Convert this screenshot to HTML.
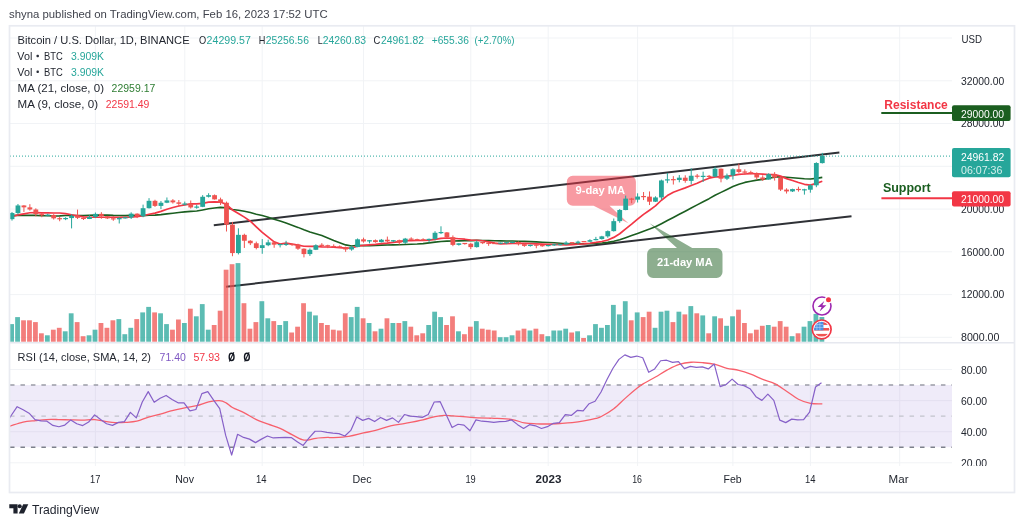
<!DOCTYPE html>
<html><head><meta charset="utf-8"><title>BTCUSD</title>
<style>html,body{margin:0;padding:0;background:#fff;width:1024px;height:526px;overflow:hidden;font-family:"Liberation Sans",sans-serif}</style></head>
<body>
<svg width="1024" height="526" viewBox="0 0 1024 526" style="position:absolute;left:0;top:0;display:block;filter:blur(0.45px)" font-family="'Liberation Sans', sans-serif">
<rect width="1024" height="526" fill="#fff"/>
<defs><clipPath id="cm"><rect x="10" y="26" width="942" height="316.5"/></clipPath><clipPath id="cr"><rect x="10" y="343" width="942" height="123"/></clipPath><clipPath id="cs"><rect x="952" y="26" width="62" height="316.5"/></clipPath><clipPath id="cs2"><rect x="952" y="343" width="62" height="123"/></clipPath></defs>
<g stroke="#f1f3f6" stroke-width="1" shape-rendering="auto"><line x1="95.4" y1="26" x2="95.4" y2="466" /><line x1="184.8" y1="26" x2="184.8" y2="466" /><line x1="262.2" y1="26" x2="262.2" y2="466" /><line x1="363.5" y1="26" x2="363.5" y2="466" /><line x1="470.8" y1="26" x2="470.8" y2="466" /><line x1="548.2" y1="26" x2="548.2" y2="466" /><line x1="637.6" y1="26" x2="637.6" y2="466" /><line x1="732.9" y1="26" x2="732.9" y2="466" /><line x1="810.4" y1="26" x2="810.4" y2="466" /><line x1="899.7" y1="26" x2="899.7" y2="466" /><line x1="10" y1="38.0" x2="952" y2="38.0" /><line x1="10" y1="80.8" x2="952" y2="80.8" /><line x1="10" y1="123.5" x2="952" y2="123.5" /><line x1="10" y1="166.3" x2="952" y2="166.3" /><line x1="10" y1="209.1" x2="952" y2="209.1" /><line x1="10" y1="251.8" x2="952" y2="251.8" /><line x1="10" y1="294.6" x2="952" y2="294.6" /><line x1="10" y1="337.3" x2="952" y2="337.3" /><line x1="10" y1="369.5" x2="952" y2="369.5" /><line x1="10" y1="400.6" x2="952" y2="400.6" /><line x1="10" y1="431.7" x2="952" y2="431.7" /><line x1="10" y1="462.8" x2="952" y2="462.8" /></g>
<rect x="10" y="385.0" width="942" height="62.2" fill="#efebf9"/>
<g stroke="#e4e0f0" stroke-width="1"><line x1="95.4" y1="385.0" x2="95.4" y2="447.3" /><line x1="184.8" y1="385.0" x2="184.8" y2="447.3" /><line x1="262.2" y1="385.0" x2="262.2" y2="447.3" /><line x1="363.5" y1="385.0" x2="363.5" y2="447.3" /><line x1="470.8" y1="385.0" x2="470.8" y2="447.3" /><line x1="548.2" y1="385.0" x2="548.2" y2="447.3" /><line x1="637.6" y1="385.0" x2="637.6" y2="447.3" /><line x1="732.9" y1="385.0" x2="732.9" y2="447.3" /><line x1="810.4" y1="385.0" x2="810.4" y2="447.3" /><line x1="899.7" y1="385.0" x2="899.7" y2="447.3" /><line x1="10" y1="400.6" x2="952" y2="400.6" /><line x1="10" y1="431.7" x2="952" y2="431.7" /></g>
<line x1="10" y1="385.0" x2="952" y2="385.0" stroke="#9a9ca6" stroke-width="1.6" stroke-dasharray="4.5 5.96"/>
<line x1="10" y1="416.1" x2="952" y2="416.1" stroke="#c2c3cb" stroke-width="1.2" stroke-dasharray="4.5 5.96"/>
<line x1="10" y1="447.3" x2="952" y2="447.3" stroke="#7d808b" stroke-width="1.6" stroke-dasharray="4.5 5.96"/>
<g clip-path="url(#cm)">
<line x1="213.8" y1="225.2" x2="839.4" y2="152.5" stroke="#2f3136" stroke-width="2"/>
<line x1="226" y1="286.8" x2="851.5" y2="216.2" stroke="#2f3136" stroke-width="2"/>
<path d="M572.8 175.8H629.9a6 6 0 0 1 6 6V199.8a6 6 0 0 1 -6 6H609.5L628.4 223.2L593.6 205.8H572.8a6 6 0 0 1 -6 -6V181.8a6 6 0 0 1 6 -6Z" fill="#f23645" fill-opacity="0.5"/>
<path d="M653.1 247.9H677L649.5 223.3L692.2 247.9H716.5a6 6 0 0 1 6 6V271.9a6 6 0 0 1 -6 6H653.1a6 6 0 0 1 -6 -6V253.9a6 6 0 0 1 6 -6Z" fill="#1b5e20" fill-opacity="0.5"/>
<text x="575.5" y="193.5" font-size="11.5" font-weight="700" fill="#fff" textLength="49.6" lengthAdjust="spacingAndGlyphs">9-day MA</text>
<text x="657" y="265.7" font-size="11.5" font-weight="700" fill="#fff" textLength="55.7" lengthAdjust="spacingAndGlyphs">21-day MA</text>
<line x1="10" y1="156.1" x2="952" y2="156.1" stroke="#26a69a" stroke-width="1" stroke-dasharray="1 2"/>
<rect x="9.20" y="324.10" width="4.8" height="17.60" fill="#26a69a" fill-opacity="0.75"/><rect x="15.16" y="317.10" width="4.8" height="24.60" fill="#26a69a" fill-opacity="0.75"/><rect x="21.12" y="320.30" width="4.8" height="21.40" fill="#ef5350" fill-opacity="0.75"/><rect x="27.07" y="320.30" width="4.8" height="21.40" fill="#ef5350" fill-opacity="0.75"/><rect x="33.03" y="322.10" width="4.8" height="19.60" fill="#ef5350" fill-opacity="0.75"/><rect x="38.99" y="333.30" width="4.8" height="8.40" fill="#ef5350" fill-opacity="0.75"/><rect x="44.95" y="335.30" width="4.8" height="6.40" fill="#26a69a" fill-opacity="0.75"/><rect x="50.91" y="329.70" width="4.8" height="12.00" fill="#ef5350" fill-opacity="0.75"/><rect x="56.86" y="327.80" width="4.8" height="13.90" fill="#ef5350" fill-opacity="0.75"/><rect x="62.82" y="331.30" width="4.8" height="10.40" fill="#26a69a" fill-opacity="0.75"/><rect x="68.78" y="313.30" width="4.8" height="28.40" fill="#26a69a" fill-opacity="0.75"/><rect x="74.74" y="322.10" width="4.8" height="19.60" fill="#ef5350" fill-opacity="0.75"/><rect x="80.70" y="336.20" width="4.8" height="5.50" fill="#ef5350" fill-opacity="0.75"/><rect x="86.65" y="335.30" width="4.8" height="6.40" fill="#26a69a" fill-opacity="0.75"/><rect x="92.61" y="329.70" width="4.8" height="12.00" fill="#26a69a" fill-opacity="0.75"/><rect x="98.57" y="323.00" width="4.8" height="18.70" fill="#ef5350" fill-opacity="0.75"/><rect x="104.53" y="327.80" width="4.8" height="13.90" fill="#ef5350" fill-opacity="0.75"/><rect x="110.49" y="320.30" width="4.8" height="21.40" fill="#ef5350" fill-opacity="0.75"/><rect x="116.44" y="319.10" width="4.8" height="22.60" fill="#26a69a" fill-opacity="0.75"/><rect x="122.40" y="334.20" width="4.8" height="7.50" fill="#26a69a" fill-opacity="0.75"/><rect x="128.36" y="327.80" width="4.8" height="13.90" fill="#26a69a" fill-opacity="0.75"/><rect x="134.32" y="319.10" width="4.8" height="22.60" fill="#ef5350" fill-opacity="0.75"/><rect x="140.28" y="312.40" width="4.8" height="29.30" fill="#26a69a" fill-opacity="0.75"/><rect x="146.23" y="306.90" width="4.8" height="34.80" fill="#26a69a" fill-opacity="0.75"/><rect x="152.19" y="312.40" width="4.8" height="29.30" fill="#ef5350" fill-opacity="0.75"/><rect x="158.15" y="313.30" width="4.8" height="28.40" fill="#26a69a" fill-opacity="0.75"/><rect x="164.11" y="324.10" width="4.8" height="17.60" fill="#26a69a" fill-opacity="0.75"/><rect x="170.07" y="329.70" width="4.8" height="12.00" fill="#ef5350" fill-opacity="0.75"/><rect x="176.02" y="319.50" width="4.8" height="22.20" fill="#ef5350" fill-opacity="0.75"/><rect x="181.98" y="323.00" width="4.8" height="18.70" fill="#26a69a" fill-opacity="0.75"/><rect x="187.94" y="308.70" width="4.8" height="33.00" fill="#ef5350" fill-opacity="0.75"/><rect x="193.90" y="316.30" width="4.8" height="25.40" fill="#26a69a" fill-opacity="0.75"/><rect x="199.86" y="304.10" width="4.8" height="37.60" fill="#26a69a" fill-opacity="0.75"/><rect x="205.81" y="329.70" width="4.8" height="12.00" fill="#26a69a" fill-opacity="0.75"/><rect x="211.77" y="325.00" width="4.8" height="16.70" fill="#ef5350" fill-opacity="0.75"/><rect x="217.73" y="310.70" width="4.8" height="31.00" fill="#ef5350" fill-opacity="0.75"/><rect x="223.69" y="269.70" width="4.8" height="72.00" fill="#ef5350" fill-opacity="0.75"/><rect x="229.65" y="264.20" width="4.8" height="77.50" fill="#ef5350" fill-opacity="0.75"/><rect x="235.60" y="263.10" width="4.8" height="78.60" fill="#26a69a" fill-opacity="0.75"/><rect x="241.56" y="303.20" width="4.8" height="38.50" fill="#ef5350" fill-opacity="0.75"/><rect x="247.52" y="328.70" width="4.8" height="13.00" fill="#ef5350" fill-opacity="0.75"/><rect x="253.48" y="322.10" width="4.8" height="19.60" fill="#ef5350" fill-opacity="0.75"/><rect x="259.44" y="301.20" width="4.8" height="40.50" fill="#26a69a" fill-opacity="0.75"/><rect x="265.39" y="318.30" width="4.8" height="23.40" fill="#26a69a" fill-opacity="0.75"/><rect x="271.35" y="321.10" width="4.8" height="20.60" fill="#ef5350" fill-opacity="0.75"/><rect x="277.31" y="325.00" width="4.8" height="16.70" fill="#26a69a" fill-opacity="0.75"/><rect x="283.27" y="321.10" width="4.8" height="20.60" fill="#26a69a" fill-opacity="0.75"/><rect x="289.23" y="332.50" width="4.8" height="9.20" fill="#ef5350" fill-opacity="0.75"/><rect x="295.18" y="326.70" width="4.8" height="15.00" fill="#ef5350" fill-opacity="0.75"/><rect x="301.14" y="303.20" width="4.8" height="38.50" fill="#ef5350" fill-opacity="0.75"/><rect x="307.10" y="311.70" width="4.8" height="30.00" fill="#26a69a" fill-opacity="0.75"/><rect x="313.06" y="315.40" width="4.8" height="26.30" fill="#26a69a" fill-opacity="0.75"/><rect x="319.02" y="323.00" width="4.8" height="18.70" fill="#ef5350" fill-opacity="0.75"/><rect x="324.97" y="325.00" width="4.8" height="16.70" fill="#ef5350" fill-opacity="0.75"/><rect x="330.93" y="329.70" width="4.8" height="12.00" fill="#ef5350" fill-opacity="0.75"/><rect x="336.89" y="330.50" width="4.8" height="11.20" fill="#ef5350" fill-opacity="0.75"/><rect x="342.85" y="313.30" width="4.8" height="28.40" fill="#ef5350" fill-opacity="0.75"/><rect x="348.81" y="317.10" width="4.8" height="24.60" fill="#26a69a" fill-opacity="0.75"/><rect x="354.76" y="306.90" width="4.8" height="34.80" fill="#26a69a" fill-opacity="0.75"/><rect x="360.72" y="318.30" width="4.8" height="23.40" fill="#ef5350" fill-opacity="0.75"/><rect x="366.68" y="323.00" width="4.8" height="18.70" fill="#26a69a" fill-opacity="0.75"/><rect x="372.64" y="331.30" width="4.8" height="10.40" fill="#ef5350" fill-opacity="0.75"/><rect x="378.60" y="328.70" width="4.8" height="13.00" fill="#26a69a" fill-opacity="0.75"/><rect x="384.55" y="318.30" width="4.8" height="23.40" fill="#ef5350" fill-opacity="0.75"/><rect x="390.51" y="323.00" width="4.8" height="18.70" fill="#26a69a" fill-opacity="0.75"/><rect x="396.47" y="323.00" width="4.8" height="18.70" fill="#ef5350" fill-opacity="0.75"/><rect x="402.43" y="321.10" width="4.8" height="20.60" fill="#26a69a" fill-opacity="0.75"/><rect x="408.39" y="326.70" width="4.8" height="15.00" fill="#ef5350" fill-opacity="0.75"/><rect x="414.34" y="335.30" width="4.8" height="6.40" fill="#ef5350" fill-opacity="0.75"/><rect x="420.30" y="333.30" width="4.8" height="8.40" fill="#ef5350" fill-opacity="0.75"/><rect x="426.26" y="325.00" width="4.8" height="16.70" fill="#26a69a" fill-opacity="0.75"/><rect x="432.22" y="311.70" width="4.8" height="30.00" fill="#26a69a" fill-opacity="0.75"/><rect x="438.18" y="317.10" width="4.8" height="24.60" fill="#26a69a" fill-opacity="0.75"/><rect x="444.13" y="325.00" width="4.8" height="16.70" fill="#ef5350" fill-opacity="0.75"/><rect x="450.09" y="316.30" width="4.8" height="25.40" fill="#ef5350" fill-opacity="0.75"/><rect x="456.05" y="331.30" width="4.8" height="10.40" fill="#26a69a" fill-opacity="0.75"/><rect x="462.01" y="334.20" width="4.8" height="7.50" fill="#ef5350" fill-opacity="0.75"/><rect x="467.97" y="326.70" width="4.8" height="15.00" fill="#ef5350" fill-opacity="0.75"/><rect x="473.92" y="321.10" width="4.8" height="20.60" fill="#26a69a" fill-opacity="0.75"/><rect x="479.88" y="328.70" width="4.8" height="13.00" fill="#ef5350" fill-opacity="0.75"/><rect x="485.84" y="329.70" width="4.8" height="12.00" fill="#ef5350" fill-opacity="0.75"/><rect x="491.80" y="330.50" width="4.8" height="11.20" fill="#ef5350" fill-opacity="0.75"/><rect x="497.76" y="337.20" width="4.8" height="4.50" fill="#26a69a" fill-opacity="0.75"/><rect x="503.71" y="337.20" width="4.8" height="4.50" fill="#26a69a" fill-opacity="0.75"/><rect x="509.67" y="335.30" width="4.8" height="6.40" fill="#26a69a" fill-opacity="0.75"/><rect x="515.63" y="330.50" width="4.8" height="11.20" fill="#ef5350" fill-opacity="0.75"/><rect x="521.59" y="328.70" width="4.8" height="13.00" fill="#ef5350" fill-opacity="0.75"/><rect x="527.55" y="330.50" width="4.8" height="11.20" fill="#26a69a" fill-opacity="0.75"/><rect x="533.50" y="328.70" width="4.8" height="13.00" fill="#ef5350" fill-opacity="0.75"/><rect x="539.46" y="334.20" width="4.8" height="7.50" fill="#ef5350" fill-opacity="0.75"/><rect x="545.42" y="336.20" width="4.8" height="5.50" fill="#26a69a" fill-opacity="0.75"/><rect x="551.38" y="330.50" width="4.8" height="11.20" fill="#26a69a" fill-opacity="0.75"/><rect x="557.34" y="330.50" width="4.8" height="11.20" fill="#26a69a" fill-opacity="0.75"/><rect x="563.29" y="328.70" width="4.8" height="13.00" fill="#26a69a" fill-opacity="0.75"/><rect x="569.25" y="332.50" width="4.8" height="9.20" fill="#ef5350" fill-opacity="0.75"/><rect x="575.21" y="331.30" width="4.8" height="10.40" fill="#26a69a" fill-opacity="0.75"/><rect x="581.17" y="338.00" width="4.8" height="3.70" fill="#ef5350" fill-opacity="0.75"/><rect x="587.13" y="335.30" width="4.8" height="6.40" fill="#26a69a" fill-opacity="0.75"/><rect x="593.08" y="324.10" width="4.8" height="17.60" fill="#26a69a" fill-opacity="0.75"/><rect x="599.04" y="327.80" width="4.8" height="13.90" fill="#26a69a" fill-opacity="0.75"/><rect x="605.00" y="325.00" width="4.8" height="16.70" fill="#26a69a" fill-opacity="0.75"/><rect x="610.96" y="304.90" width="4.8" height="36.80" fill="#26a69a" fill-opacity="0.75"/><rect x="616.92" y="314.40" width="4.8" height="27.30" fill="#26a69a" fill-opacity="0.75"/><rect x="622.87" y="301.20" width="4.8" height="40.50" fill="#26a69a" fill-opacity="0.75"/><rect x="628.83" y="320.30" width="4.8" height="21.40" fill="#ef5350" fill-opacity="0.75"/><rect x="634.79" y="312.40" width="4.8" height="29.30" fill="#26a69a" fill-opacity="0.75"/><rect x="640.75" y="317.10" width="4.8" height="24.60" fill="#ef5350" fill-opacity="0.75"/><rect x="646.71" y="311.70" width="4.8" height="30.00" fill="#ef5350" fill-opacity="0.75"/><rect x="652.66" y="327.80" width="4.8" height="13.90" fill="#26a69a" fill-opacity="0.75"/><rect x="658.62" y="311.70" width="4.8" height="30.00" fill="#26a69a" fill-opacity="0.75"/><rect x="664.58" y="310.70" width="4.8" height="31.00" fill="#26a69a" fill-opacity="0.75"/><rect x="670.54" y="322.10" width="4.8" height="19.60" fill="#ef5350" fill-opacity="0.75"/><rect x="676.50" y="311.70" width="4.8" height="30.00" fill="#26a69a" fill-opacity="0.75"/><rect x="682.45" y="314.40" width="4.8" height="27.30" fill="#ef5350" fill-opacity="0.75"/><rect x="688.41" y="306.10" width="4.8" height="35.60" fill="#26a69a" fill-opacity="0.75"/><rect x="694.37" y="313.30" width="4.8" height="28.40" fill="#ef5350" fill-opacity="0.75"/><rect x="700.33" y="315.40" width="4.8" height="26.30" fill="#26a69a" fill-opacity="0.75"/><rect x="706.29" y="333.30" width="4.8" height="8.40" fill="#ef5350" fill-opacity="0.75"/><rect x="712.24" y="316.30" width="4.8" height="25.40" fill="#26a69a" fill-opacity="0.75"/><rect x="718.20" y="318.30" width="4.8" height="23.40" fill="#ef5350" fill-opacity="0.75"/><rect x="724.16" y="325.80" width="4.8" height="15.90" fill="#26a69a" fill-opacity="0.75"/><rect x="730.12" y="316.30" width="4.8" height="25.40" fill="#26a69a" fill-opacity="0.75"/><rect x="736.08" y="309.70" width="4.8" height="32.00" fill="#ef5350" fill-opacity="0.75"/><rect x="742.03" y="323.00" width="4.8" height="18.70" fill="#ef5350" fill-opacity="0.75"/><rect x="747.99" y="333.30" width="4.8" height="8.40" fill="#ef5350" fill-opacity="0.75"/><rect x="753.95" y="329.70" width="4.8" height="12.00" fill="#ef5350" fill-opacity="0.75"/><rect x="759.91" y="325.80" width="4.8" height="15.90" fill="#ef5350" fill-opacity="0.75"/><rect x="765.87" y="325.00" width="4.8" height="16.70" fill="#26a69a" fill-opacity="0.75"/><rect x="771.82" y="326.70" width="4.8" height="15.00" fill="#ef5350" fill-opacity="0.75"/><rect x="777.78" y="321.10" width="4.8" height="20.60" fill="#ef5350" fill-opacity="0.75"/><rect x="783.74" y="326.70" width="4.8" height="15.00" fill="#ef5350" fill-opacity="0.75"/><rect x="789.70" y="336.20" width="4.8" height="5.50" fill="#26a69a" fill-opacity="0.75"/><rect x="795.66" y="333.30" width="4.8" height="8.40" fill="#ef5350" fill-opacity="0.75"/><rect x="801.61" y="326.70" width="4.8" height="15.00" fill="#26a69a" fill-opacity="0.75"/><rect x="807.57" y="321.10" width="4.8" height="20.60" fill="#26a69a" fill-opacity="0.75"/><rect x="813.53" y="313.90" width="4.8" height="27.80" fill="#26a69a" fill-opacity="0.75"/><rect x="819.49" y="317.00" width="4.8" height="24.70" fill="#26a69a" fill-opacity="0.75"/>
<path d="M12.00 215.45 L17.96 215.36 L23.92 215.39 L29.87 215.26 L35.83 215.40 L41.79 215.75 L47.75 215.74 L53.71 215.95 L59.66 215.85 L65.62 215.50 L71.58 215.51 L77.54 215.57 L83.50 215.49 L89.45 215.26 L95.41 215.10 L101.37 214.98 L107.33 215.12 L113.29 215.40 L119.24 215.53 L125.20 215.59 L131.16 215.32 L137.12 215.48 L143.08 215.61 L149.03 215.30 L154.99 215.13 L160.95 214.59 L166.91 213.88 L172.87 213.27 L178.82 212.58 L184.78 211.86 L190.74 211.35 L196.70 210.93 L202.66 209.92 L208.61 208.79 L214.57 207.95 L220.53 207.42 L226.49 207.82 L232.45 209.47 L238.40 210.21 L244.36 211.30 L250.32 212.52 L256.28 214.16 L262.24 215.54 L268.19 217.16 L274.15 219.25 L280.11 221.09 L286.07 223.07 L292.03 225.17 L297.98 227.38 L303.94 229.77 L309.90 231.96 L315.86 233.76 L321.82 235.59 L327.77 237.95 L333.73 240.41 L339.69 242.68 L345.65 244.91 L351.61 245.97 L357.56 245.32 L363.52 245.63 L369.48 245.60 L375.44 245.55 L381.40 245.15 L387.35 244.97 L393.31 244.87 L399.27 244.78 L405.23 244.50 L411.19 244.28 L417.14 244.05 L423.10 243.64 L429.06 242.91 L435.02 242.10 L440.98 241.49 L446.93 241.10 L452.89 241.04 L458.85 240.87 L464.81 240.71 L470.77 240.60 L476.72 240.36 L482.68 240.54 L488.64 240.64 L494.60 240.80 L500.56 240.83 L506.51 240.97 L512.47 241.00 L518.43 241.19 L524.39 241.34 L530.35 241.64 L536.30 241.91 L542.26 242.21 L548.22 242.45 L554.18 242.72 L560.14 243.28 L566.09 243.76 L572.05 244.03 L578.01 243.87 L583.97 243.80 L589.93 243.63 L595.88 243.24 L601.84 242.97 L607.80 242.40 L613.76 241.34 L619.72 239.74 L625.67 237.64 L631.63 235.59 L637.59 233.42 L643.55 231.16 L649.51 229.06 L655.46 226.79 L661.42 223.70 L667.38 220.53 L673.34 217.43 L679.30 214.25 L685.25 211.22 L691.21 208.04 L697.17 204.88 L703.13 201.76 L709.09 198.67 L715.04 195.26 L721.00 192.39 L726.96 189.49 L732.92 186.55 L738.88 184.21 L744.83 182.40 L750.79 181.21 L756.75 180.15 L762.71 179.34 L768.67 178.27 L774.62 177.12 L780.58 176.75 L786.54 177.27 L792.50 177.73 L798.46 178.21 L804.41 178.78 L810.37 178.99 L816.33 178.39 L822.29 177.41" fill="none" stroke="#1b5e20" stroke-width="1.6" stroke-linejoin="round"/>
<path d="M12.00 216.73 L17.96 214.92 L23.92 213.81 L29.87 212.77 L35.83 212.63 L41.79 212.83 L47.75 212.81 L53.71 213.02 L59.66 213.02 L65.62 213.58 L71.58 214.72 L77.54 215.89 L83.50 216.95 L89.45 217.27 L95.41 217.11 L101.37 217.24 L107.33 217.25 L113.29 217.27 L119.24 217.26 L125.20 217.47 L131.16 217.00 L137.12 216.69 L143.08 215.72 L149.03 214.27 L154.99 213.12 L160.95 211.37 L166.91 209.28 L172.87 207.54 L178.82 206.01 L184.78 204.93 L190.74 203.95 L196.70 203.80 L202.66 203.35 L208.61 202.16 L214.57 201.79 L220.53 202.04 L226.49 204.52 L232.45 210.00 L238.40 213.44 L244.36 217.14 L250.32 221.19 L256.28 226.88 L262.24 232.44 L268.19 237.21 L274.15 241.87 L280.11 244.07 L286.07 243.10 L292.03 244.18 L297.98 245.06 L303.94 246.26 L309.90 246.46 L315.86 246.47 L321.82 246.80 L327.77 246.98 L333.73 247.24 L339.69 247.54 L345.65 248.09 L351.61 247.91 L357.56 246.27 L363.52 245.34 L369.48 244.78 L375.44 244.42 L381.40 243.69 L387.35 243.09 L393.31 242.32 L399.27 241.57 L405.23 240.64 L411.19 240.68 L417.14 240.49 L423.10 240.47 L429.06 240.11 L435.02 239.34 L440.98 238.34 L446.93 238.01 L452.89 238.25 L458.85 238.77 L464.81 239.22 L470.77 240.04 L476.72 240.27 L482.68 240.73 L488.64 241.93 L494.60 243.17 L500.56 243.78 L506.51 243.54 L512.47 243.39 L518.43 243.44 L524.39 243.31 L530.35 243.62 L536.30 243.87 L542.26 244.15 L548.22 244.32 L554.18 244.51 L560.14 244.71 L566.09 244.78 L572.05 244.64 L578.01 244.16 L583.97 243.81 L589.93 243.23 L595.88 242.45 L601.84 241.48 L607.80 240.00 L613.76 237.40 L619.72 233.78 L625.67 228.87 L631.63 224.20 L637.59 219.18 L643.55 214.35 L649.51 210.20 L655.46 205.88 L661.42 200.25 L667.38 195.61 L673.34 192.27 L679.30 189.94 L685.25 187.86 L691.21 185.54 L697.17 183.32 L703.13 180.48 L709.09 178.17 L715.04 176.87 L721.00 176.80 L726.96 176.30 L732.92 175.36 L738.88 174.37 L744.83 173.98 L750.79 173.62 L756.75 173.77 L762.71 174.09 L768.67 174.69 L774.62 174.58 L780.58 176.14 L786.54 178.60 L792.50 180.51 L798.46 182.48 L804.41 184.29 L810.37 185.16 L816.33 183.32 L822.29 181.31" fill="none" stroke="#f23645" stroke-width="1.7" stroke-linejoin="round"/>
<rect x="11.50" y="212.04" width="1" height="8.55" fill="#26a69a"/><rect x="9.60" y="213.02" width="4.8" height="6.12" fill="#26a69a"/><rect x="17.46" y="203.98" width="1" height="10.53" fill="#26a69a"/><rect x="15.56" y="205.45" width="4.8" height="7.57" fill="#26a69a"/><rect x="23.42" y="205.15" width="1" height="6.79" fill="#ef5350"/><rect x="21.52" y="205.45" width="4.8" height="1.91" fill="#ef5350"/><rect x="29.37" y="204.18" width="1" height="6.44" fill="#ef5350"/><rect x="27.47" y="207.36" width="4.8" height="2.12" fill="#ef5350"/><rect x="35.33" y="208.33" width="1" height="7.99" fill="#ef5350"/><rect x="33.43" y="209.48" width="4.8" height="4.60" fill="#ef5350"/><rect x="41.29" y="213.04" width="1" height="4.17" fill="#ef5350"/><rect x="39.39" y="214.08" width="4.8" height="1.21" fill="#ef5350"/><rect x="47.25" y="213.78" width="1" height="2.59" fill="#26a69a"/><rect x="45.35" y="214.57" width="4.8" height="1.20" fill="#26a69a"/><rect x="53.21" y="214.13" width="1" height="5.40" fill="#ef5350"/><rect x="51.31" y="215.05" width="4.8" height="3.29" fill="#ef5350"/><rect x="59.16" y="216.88" width="1" height="4.36" fill="#ef5350"/><rect x="57.26" y="218.12" width="4.8" height="1.20" fill="#ef5350"/><rect x="65.12" y="217.20" width="1" height="2.92" fill="#26a69a"/><rect x="63.22" y="217.99" width="4.8" height="1.20" fill="#26a69a"/><rect x="71.08" y="214.26" width="1" height="14.14" fill="#26a69a"/><rect x="69.18" y="215.73" width="4.8" height="2.35" fill="#26a69a"/><rect x="77.04" y="209.58" width="1" height="9.42" fill="#ef5350"/><rect x="75.14" y="215.73" width="4.8" height="2.13" fill="#ef5350"/><rect x="83.00" y="217.31" width="1" height="2.69" fill="#ef5350"/><rect x="81.10" y="217.83" width="4.8" height="1.20" fill="#ef5350"/><rect x="88.95" y="215.20" width="1" height="3.87" fill="#26a69a"/><rect x="87.05" y="216.94" width="4.8" height="2.06" fill="#26a69a"/><rect x="94.91" y="212.51" width="1" height="5.60" fill="#26a69a"/><rect x="93.01" y="213.88" width="4.8" height="3.06" fill="#26a69a"/><rect x="100.87" y="212.19" width="1" height="6.57" fill="#ef5350"/><rect x="98.97" y="213.88" width="4.8" height="2.36" fill="#ef5350"/><rect x="106.83" y="215.89" width="1" height="3.15" fill="#ef5350"/><rect x="104.93" y="216.25" width="4.8" height="2.18" fill="#ef5350"/><rect x="112.79" y="216.03" width="1" height="4.78" fill="#ef5350"/><rect x="110.89" y="218.26" width="4.8" height="1.20" fill="#ef5350"/><rect x="118.74" y="217.07" width="1" height="6.41" fill="#26a69a"/><rect x="116.84" y="217.99" width="4.8" height="1.31" fill="#26a69a"/><rect x="124.70" y="216.99" width="1" height="1.55" fill="#26a69a"/><rect x="122.80" y="217.17" width="4.8" height="1.20" fill="#26a69a"/><rect x="130.66" y="212.31" width="1" height="6.68" fill="#26a69a"/><rect x="128.76" y="213.65" width="4.8" height="3.91" fill="#26a69a"/><rect x="136.62" y="213.32" width="1" height="4.75" fill="#ef5350"/><rect x="134.72" y="213.65" width="4.8" height="2.58" fill="#ef5350"/><rect x="142.58" y="204.62" width="1" height="12.59" fill="#26a69a"/><rect x="140.68" y="208.20" width="4.8" height="8.03" fill="#26a69a"/><rect x="148.53" y="198.15" width="1" height="10.37" fill="#26a69a"/><rect x="146.63" y="200.82" width="4.8" height="7.37" fill="#26a69a"/><rect x="154.49" y="199.73" width="1" height="7.18" fill="#ef5350"/><rect x="152.59" y="200.82" width="4.8" height="5.08" fill="#ef5350"/><rect x="160.45" y="201.04" width="1" height="8.02" fill="#26a69a"/><rect x="158.55" y="202.74" width="4.8" height="3.16" fill="#26a69a"/><rect x="166.41" y="197.46" width="1" height="5.68" fill="#26a69a"/><rect x="164.51" y="200.41" width="4.8" height="2.33" fill="#26a69a"/><rect x="172.37" y="199.10" width="1" height="4.45" fill="#ef5350"/><rect x="170.47" y="200.41" width="4.8" height="1.95" fill="#ef5350"/><rect x="178.32" y="200.02" width="1" height="6.50" fill="#ef5350"/><rect x="176.42" y="202.35" width="4.8" height="1.46" fill="#ef5350"/><rect x="184.28" y="201.57" width="1" height="3.95" fill="#26a69a"/><rect x="182.38" y="203.47" width="4.8" height="1.20" fill="#26a69a"/><rect x="190.24" y="200.50" width="1" height="8.04" fill="#ef5350"/><rect x="188.34" y="203.89" width="4.8" height="3.55" fill="#ef5350"/><rect x="196.20" y="204.85" width="1" height="3.87" fill="#26a69a"/><rect x="194.30" y="206.54" width="4.8" height="1.20" fill="#26a69a"/><rect x="202.16" y="195.14" width="1" height="11.99" fill="#26a69a"/><rect x="200.26" y="196.78" width="4.8" height="10.06" fill="#26a69a"/><rect x="208.11" y="193.23" width="1" height="4.28" fill="#26a69a"/><rect x="206.21" y="195.17" width="4.8" height="1.61" fill="#26a69a"/><rect x="214.07" y="194.46" width="1" height="5.12" fill="#ef5350"/><rect x="212.17" y="195.17" width="4.8" height="4.21" fill="#ef5350"/><rect x="220.03" y="197.63" width="1" height="7.32" fill="#ef5350"/><rect x="218.13" y="199.38" width="4.8" height="3.36" fill="#ef5350"/><rect x="225.99" y="201.57" width="1" height="29.93" fill="#ef5350"/><rect x="224.09" y="202.74" width="4.8" height="21.91" fill="#ef5350"/><rect x="231.95" y="221.88" width="1" height="34.33" fill="#ef5350"/><rect x="230.05" y="224.65" width="4.8" height="28.44" fill="#ef5350"/><rect x="237.90" y="228.30" width="1" height="26.13" fill="#26a69a"/><rect x="236.00" y="234.85" width="4.8" height="18.23" fill="#26a69a"/><rect x="243.86" y="233.69" width="1" height="14.26" fill="#ef5350"/><rect x="241.96" y="234.85" width="4.8" height="5.90" fill="#ef5350"/><rect x="249.82" y="240.18" width="1" height="4.88" fill="#ef5350"/><rect x="247.92" y="240.75" width="4.8" height="2.51" fill="#ef5350"/><rect x="255.78" y="241.61" width="1" height="7.75" fill="#ef5350"/><rect x="253.88" y="243.26" width="4.8" height="4.77" fill="#ef5350"/><rect x="261.74" y="239.09" width="1" height="14.70" fill="#26a69a"/><rect x="259.84" y="245.20" width="4.8" height="2.83" fill="#26a69a"/><rect x="267.69" y="239.68" width="1" height="6.49" fill="#26a69a"/><rect x="265.79" y="242.36" width="4.8" height="2.84" fill="#26a69a"/><rect x="273.65" y="241.00" width="1" height="6.77" fill="#ef5350"/><rect x="271.75" y="242.36" width="4.8" height="2.30" fill="#ef5350"/><rect x="279.61" y="243.78" width="1" height="3.64" fill="#26a69a"/><rect x="277.71" y="243.96" width="4.8" height="1.20" fill="#26a69a"/><rect x="285.57" y="240.80" width="1" height="5.17" fill="#26a69a"/><rect x="283.67" y="243.81" width="4.8" height="1.20" fill="#26a69a"/><rect x="291.53" y="243.02" width="1" height="2.88" fill="#ef5350"/><rect x="289.63" y="243.85" width="4.8" height="1.20" fill="#ef5350"/><rect x="297.48" y="243.76" width="1" height="6.12" fill="#ef5350"/><rect x="295.58" y="244.54" width="4.8" height="4.16" fill="#ef5350"/><rect x="303.44" y="248.39" width="1" height="9.01" fill="#ef5350"/><rect x="301.54" y="248.69" width="4.8" height="5.39" fill="#ef5350"/><rect x="309.40" y="248.44" width="1" height="7.47" fill="#26a69a"/><rect x="307.50" y="249.78" width="4.8" height="4.30" fill="#26a69a"/><rect x="315.36" y="244.32" width="1" height="5.77" fill="#26a69a"/><rect x="313.46" y="245.28" width="4.8" height="4.50" fill="#26a69a"/><rect x="321.32" y="243.13" width="1" height="3.78" fill="#ef5350"/><rect x="319.42" y="244.72" width="4.8" height="1.20" fill="#ef5350"/><rect x="327.27" y="244.69" width="1" height="3.46" fill="#ef5350"/><rect x="325.37" y="245.19" width="4.8" height="1.20" fill="#ef5350"/><rect x="333.23" y="244.31" width="1" height="3.38" fill="#ef5350"/><rect x="331.33" y="245.94" width="4.8" height="1.20" fill="#ef5350"/><rect x="339.19" y="245.39" width="1" height="2.13" fill="#ef5350"/><rect x="337.29" y="246.35" width="4.8" height="1.20" fill="#ef5350"/><rect x="345.15" y="246.60" width="1" height="5.26" fill="#ef5350"/><rect x="343.25" y="247.06" width="4.8" height="2.43" fill="#ef5350"/><rect x="351.11" y="245.95" width="1" height="4.79" fill="#26a69a"/><rect x="349.21" y="247.06" width="4.8" height="2.43" fill="#26a69a"/><rect x="357.06" y="238.45" width="1" height="8.77" fill="#26a69a"/><rect x="355.16" y="239.32" width="4.8" height="7.74" fill="#26a69a"/><rect x="363.02" y="237.65" width="1" height="5.01" fill="#ef5350"/><rect x="361.12" y="239.32" width="4.8" height="2.15" fill="#ef5350"/><rect x="368.98" y="239.99" width="1" height="3.40" fill="#26a69a"/><rect x="367.08" y="240.18" width="4.8" height="1.29" fill="#26a69a"/><rect x="374.94" y="239.44" width="1" height="3.20" fill="#ef5350"/><rect x="373.04" y="240.18" width="4.8" height="1.92" fill="#ef5350"/><rect x="380.90" y="238.96" width="1" height="3.46" fill="#26a69a"/><rect x="379.00" y="239.73" width="4.8" height="2.37" fill="#26a69a"/><rect x="386.85" y="236.58" width="1" height="5.95" fill="#ef5350"/><rect x="384.95" y="239.73" width="4.8" height="1.67" fill="#ef5350"/><rect x="392.81" y="239.97" width="1" height="2.15" fill="#26a69a"/><rect x="390.91" y="240.16" width="4.8" height="1.23" fill="#26a69a"/><rect x="398.77" y="239.60" width="1" height="4.96" fill="#ef5350"/><rect x="396.87" y="240.16" width="4.8" height="2.58" fill="#ef5350"/><rect x="404.73" y="237.92" width="1" height="6.05" fill="#26a69a"/><rect x="402.83" y="238.63" width="4.8" height="4.11" fill="#26a69a"/><rect x="410.69" y="237.27" width="1" height="3.23" fill="#ef5350"/><rect x="408.79" y="238.56" width="4.8" height="1.20" fill="#ef5350"/><rect x="416.64" y="238.69" width="1" height="1.41" fill="#ef5350"/><rect x="414.74" y="239.12" width="4.8" height="1.20" fill="#ef5350"/><rect x="422.60" y="238.23" width="1" height="2.13" fill="#ef5350"/><rect x="420.70" y="239.28" width="4.8" height="1.20" fill="#ef5350"/><rect x="428.56" y="238.54" width="1" height="3.95" fill="#26a69a"/><rect x="426.66" y="238.86" width="4.8" height="1.20" fill="#26a69a"/><rect x="434.52" y="231.18" width="1" height="9.08" fill="#26a69a"/><rect x="432.62" y="232.77" width="4.8" height="6.15" fill="#26a69a"/><rect x="440.48" y="226.29" width="1" height="7.77" fill="#26a69a"/><rect x="438.58" y="231.99" width="4.8" height="1.20" fill="#26a69a"/><rect x="446.43" y="231.99" width="1" height="6.19" fill="#ef5350"/><rect x="444.53" y="232.41" width="4.8" height="4.82" fill="#ef5350"/><rect x="452.39" y="235.44" width="1" height="10.73" fill="#ef5350"/><rect x="450.49" y="237.23" width="4.8" height="7.66" fill="#ef5350"/><rect x="458.35" y="243.25" width="1" height="2.36" fill="#26a69a"/><rect x="456.45" y="243.31" width="4.8" height="1.58" fill="#26a69a"/><rect x="464.31" y="243.09" width="1" height="1.55" fill="#ef5350"/><rect x="462.41" y="242.91" width="4.8" height="1.20" fill="#ef5350"/><rect x="470.27" y="242.85" width="1" height="6.22" fill="#ef5350"/><rect x="468.37" y="243.71" width="4.8" height="3.40" fill="#ef5350"/><rect x="476.22" y="240.46" width="1" height="7.09" fill="#26a69a"/><rect x="474.32" y="242.12" width="4.8" height="4.99" fill="#26a69a"/><rect x="482.18" y="241.92" width="1" height="2.16" fill="#ef5350"/><rect x="480.28" y="242.00" width="4.8" height="1.20" fill="#ef5350"/><rect x="488.14" y="242.53" width="1" height="3.30" fill="#ef5350"/><rect x="486.24" y="242.68" width="4.8" height="1.20" fill="#ef5350"/><rect x="494.10" y="241.60" width="1" height="2.39" fill="#ef5350"/><rect x="492.20" y="242.93" width="4.8" height="1.20" fill="#ef5350"/><rect x="500.06" y="242.52" width="1" height="1.21" fill="#26a69a"/><rect x="498.16" y="242.56" width="4.8" height="1.20" fill="#26a69a"/><rect x="506.01" y="242.61" width="1" height="1.49" fill="#26a69a"/><rect x="504.11" y="242.14" width="4.8" height="1.20" fill="#26a69a"/><rect x="511.97" y="241.71" width="1" height="1.64" fill="#26a69a"/><rect x="510.07" y="241.75" width="4.8" height="1.20" fill="#26a69a"/><rect x="517.93" y="241.42" width="1" height="4.06" fill="#ef5350"/><rect x="516.03" y="241.98" width="4.8" height="2.16" fill="#ef5350"/><rect x="523.89" y="243.41" width="1" height="3.42" fill="#ef5350"/><rect x="521.99" y="244.14" width="4.8" height="1.76" fill="#ef5350"/><rect x="529.85" y="244.71" width="1" height="1.88" fill="#26a69a"/><rect x="527.95" y="244.82" width="4.8" height="1.20" fill="#26a69a"/><rect x="535.80" y="244.57" width="1" height="3.68" fill="#ef5350"/><rect x="533.90" y="244.56" width="4.8" height="1.20" fill="#ef5350"/><rect x="541.76" y="244.92" width="1" height="1.86" fill="#ef5350"/><rect x="539.86" y="245.06" width="4.8" height="1.20" fill="#ef5350"/><rect x="547.72" y="245.07" width="1" height="1.40" fill="#26a69a"/><rect x="545.82" y="244.94" width="4.8" height="1.20" fill="#26a69a"/><rect x="553.68" y="243.69" width="1" height="2.22" fill="#26a69a"/><rect x="551.78" y="244.19" width="4.8" height="1.20" fill="#26a69a"/><rect x="559.64" y="243.68" width="1" height="1.66" fill="#26a69a"/><rect x="557.74" y="243.99" width="4.8" height="1.20" fill="#26a69a"/><rect x="565.59" y="241.21" width="1" height="3.62" fill="#26a69a"/><rect x="563.69" y="242.58" width="4.8" height="1.97" fill="#26a69a"/><rect x="571.55" y="242.41" width="1" height="1.35" fill="#ef5350"/><rect x="569.65" y="242.12" width="4.8" height="1.20" fill="#ef5350"/><rect x="577.51" y="240.68" width="1" height="3.87" fill="#26a69a"/><rect x="575.61" y="241.64" width="4.8" height="1.23" fill="#26a69a"/><rect x="583.47" y="241.32" width="1" height="0.78" fill="#ef5350"/><rect x="581.57" y="241.06" width="4.8" height="1.20" fill="#ef5350"/><rect x="589.43" y="239.23" width="1" height="2.83" fill="#26a69a"/><rect x="587.53" y="240.14" width="4.8" height="1.57" fill="#26a69a"/><rect x="595.38" y="236.86" width="1" height="3.51" fill="#26a69a"/><rect x="593.48" y="238.98" width="4.8" height="1.20" fill="#26a69a"/><rect x="601.34" y="235.84" width="1" height="3.72" fill="#26a69a"/><rect x="599.44" y="236.35" width="4.8" height="2.67" fill="#26a69a"/><rect x="607.30" y="230.43" width="1" height="7.32" fill="#26a69a"/><rect x="605.40" y="231.13" width="4.8" height="5.22" fill="#26a69a"/><rect x="613.26" y="218.49" width="1" height="13.09" fill="#26a69a"/><rect x="611.36" y="221.14" width="4.8" height="9.99" fill="#26a69a"/><rect x="619.22" y="209.05" width="1" height="13.74" fill="#26a69a"/><rect x="617.32" y="210.02" width="4.8" height="11.12" fill="#26a69a"/><rect x="625.17" y="195.61" width="1" height="14.64" fill="#26a69a"/><rect x="623.27" y="198.62" width="4.8" height="11.40" fill="#26a69a"/><rect x="631.13" y="197.83" width="1" height="5.33" fill="#ef5350"/><rect x="629.23" y="198.53" width="4.8" height="1.20" fill="#ef5350"/><rect x="637.09" y="193.30" width="1" height="9.22" fill="#26a69a"/><rect x="635.19" y="196.56" width="4.8" height="3.09" fill="#26a69a"/><rect x="643.05" y="192.02" width="1" height="8.05" fill="#ef5350"/><rect x="641.15" y="196.00" width="4.8" height="1.20" fill="#ef5350"/><rect x="649.01" y="191.42" width="1" height="13.63" fill="#ef5350"/><rect x="647.11" y="196.64" width="4.8" height="5.06" fill="#ef5350"/><rect x="654.96" y="196.31" width="1" height="5.70" fill="#26a69a"/><rect x="653.06" y="197.44" width="4.8" height="4.25" fill="#26a69a"/><rect x="660.92" y="179.61" width="1" height="20.24" fill="#26a69a"/><rect x="659.02" y="180.45" width="4.8" height="16.99" fill="#26a69a"/><rect x="666.88" y="173.02" width="1" height="10.14" fill="#26a69a"/><rect x="664.98" y="179.31" width="4.8" height="1.20" fill="#26a69a"/><rect x="672.84" y="176.14" width="1" height="8.41" fill="#ef5350"/><rect x="670.94" y="179.08" width="4.8" height="1.20" fill="#ef5350"/><rect x="678.80" y="175.06" width="1" height="7.27" fill="#26a69a"/><rect x="676.90" y="177.69" width="4.8" height="2.29" fill="#26a69a"/><rect x="684.75" y="175.26" width="1" height="7.48" fill="#ef5350"/><rect x="682.85" y="177.69" width="4.8" height="3.19" fill="#ef5350"/><rect x="690.71" y="168.27" width="1" height="16.20" fill="#26a69a"/><rect x="688.81" y="175.74" width="4.8" height="5.14" fill="#26a69a"/><rect x="696.67" y="173.97" width="1" height="4.62" fill="#ef5350"/><rect x="694.77" y="175.59" width="4.8" height="1.20" fill="#ef5350"/><rect x="702.63" y="171.64" width="1" height="10.32" fill="#26a69a"/><rect x="700.73" y="175.80" width="4.8" height="1.20" fill="#26a69a"/><rect x="708.59" y="174.96" width="1" height="3.33" fill="#ef5350"/><rect x="706.69" y="175.81" width="4.8" height="1.20" fill="#ef5350"/><rect x="714.54" y="166.73" width="1" height="10.61" fill="#26a69a"/><rect x="712.64" y="168.72" width="4.8" height="7.94" fill="#26a69a"/><rect x="720.50" y="168.44" width="1" height="13.89" fill="#ef5350"/><rect x="718.60" y="168.72" width="4.8" height="9.98" fill="#ef5350"/><rect x="726.46" y="173.57" width="1" height="6.48" fill="#26a69a"/><rect x="724.56" y="175.50" width="4.8" height="3.20" fill="#26a69a"/><rect x="732.42" y="168.31" width="1" height="11.24" fill="#26a69a"/><rect x="730.52" y="169.26" width="4.8" height="6.24" fill="#26a69a"/><rect x="738.38" y="163.57" width="1" height="9.53" fill="#ef5350"/><rect x="736.48" y="169.26" width="4.8" height="2.69" fill="#ef5350"/><rect x="744.33" y="169.35" width="1" height="5.46" fill="#ef5350"/><rect x="742.43" y="171.47" width="4.8" height="1.20" fill="#ef5350"/><rect x="750.29" y="170.71" width="1" height="3.57" fill="#ef5350"/><rect x="748.39" y="172.19" width="4.8" height="1.26" fill="#ef5350"/><rect x="756.25" y="172.36" width="1" height="7.37" fill="#ef5350"/><rect x="754.35" y="173.45" width="4.8" height="4.02" fill="#ef5350"/><rect x="762.21" y="175.30" width="1" height="5.66" fill="#ef5350"/><rect x="760.31" y="177.47" width="4.8" height="2.08" fill="#ef5350"/><rect x="768.17" y="173.25" width="1" height="6.47" fill="#26a69a"/><rect x="766.27" y="174.17" width="4.8" height="5.39" fill="#26a69a"/><rect x="774.12" y="172.16" width="1" height="8.41" fill="#ef5350"/><rect x="772.22" y="174.17" width="4.8" height="3.47" fill="#ef5350"/><rect x="780.08" y="176.87" width="1" height="14.14" fill="#ef5350"/><rect x="778.18" y="177.64" width="4.8" height="11.97" fill="#ef5350"/><rect x="786.04" y="188.27" width="1" height="5.27" fill="#ef5350"/><rect x="784.14" y="189.61" width="4.8" height="1.80" fill="#ef5350"/><rect x="792.00" y="188.68" width="1" height="3.28" fill="#26a69a"/><rect x="790.10" y="189.07" width="4.8" height="2.34" fill="#26a69a"/><rect x="797.96" y="186.71" width="1" height="4.92" fill="#ef5350"/><rect x="796.06" y="188.90" width="4.8" height="1.20" fill="#ef5350"/><rect x="803.91" y="188.77" width="1" height="5.85" fill="#26a69a"/><rect x="802.01" y="189.23" width="4.8" height="1.20" fill="#26a69a"/><rect x="809.87" y="184.27" width="1" height="8.41" fill="#26a69a"/><rect x="807.97" y="185.32" width="4.8" height="4.40" fill="#26a69a"/><rect x="815.83" y="162.24" width="1" height="24.94" fill="#26a69a"/><rect x="813.93" y="163.02" width="4.8" height="22.31" fill="#26a69a"/><rect x="821.79" y="152.87" width="1" height="10.64" fill="#26a69a"/><rect x="819.89" y="156.02" width="4.8" height="7.08" fill="#26a69a"/>
</g>
<g clip-path="url(#cr)">
<path d="M4.65 427.58 C5.49 427.36 6.61 427.16 9.67 426.24 C12.74 425.32 18.74 423.01 23.06 422.06 C27.38 421.11 31.71 420.97 35.61 420.55 C39.51 420.13 42.72 419.71 46.49 419.55 C50.25 419.38 54.16 419.49 58.20 419.55 C62.24 419.60 66.71 419.80 70.75 419.88 C74.79 419.97 78.42 420.11 82.46 420.05 C86.51 419.99 90.97 419.30 95.01 419.55 C99.06 419.80 103.38 421.05 106.73 421.56 C110.07 422.06 112.03 422.42 115.10 422.56 C118.16 422.70 121.51 422.62 125.14 422.39 C128.76 422.17 132.94 422.11 136.85 421.22 C140.75 420.33 144.66 418.21 148.56 417.04 C152.47 415.87 156.70 415.17 160.28 414.19 C163.85 413.22 165.93 412.24 170.00 411.18 C174.07 410.12 180.26 408.75 184.73 407.83 C189.19 406.91 192.79 406.63 196.77 405.66 C200.76 404.68 204.89 402.81 208.65 401.98 C212.42 401.14 216.46 400.50 219.36 400.64 C222.26 400.78 223.88 401.67 226.06 402.81 C228.23 403.96 229.38 405.83 232.42 407.50 C235.46 409.17 240.31 410.85 244.30 412.85 C248.29 414.86 252.36 417.68 256.35 419.55 C260.33 421.42 264.27 422.59 268.23 424.07 C272.19 425.54 276.15 426.66 280.11 428.42 C284.07 430.17 288.31 432.74 291.99 434.61 C295.67 436.48 299.38 438.74 302.20 439.63 C305.01 440.52 306.60 440.19 308.89 439.96 C311.18 439.74 312.77 438.71 315.92 438.29 C319.07 437.87 325.12 437.56 327.80 437.45 C330.48 437.34 328.51 437.82 332.00 437.62 C335.49 437.42 343.49 437.06 348.73 436.28 C353.98 435.50 359.00 433.91 363.46 432.93 C367.92 431.96 370.99 431.60 375.51 430.42 C380.03 429.25 385.60 427.08 390.57 425.91 C395.53 424.73 399.88 424.40 405.29 423.40 C410.70 422.39 418.07 421.03 423.03 419.88 C428.00 418.74 431.56 417.29 435.08 416.54 C438.59 415.78 441.16 415.48 444.12 415.36 C447.07 415.25 448.38 415.53 452.82 415.87 C457.25 416.20 464.75 416.98 470.72 417.37 C476.69 417.76 484.75 418.06 488.63 418.21 C492.51 418.36 490.04 418.05 494.00 418.29 C497.96 418.53 507.33 418.85 512.41 419.63 C517.48 420.41 520.47 422.28 524.46 422.97 C528.44 423.67 532.38 423.64 536.34 423.81 C540.30 423.98 544.26 424.03 548.22 423.98 C552.18 423.92 556.11 423.70 560.10 423.48 C564.09 423.25 568.16 423.06 572.15 422.64 C576.13 422.22 580.07 421.66 584.03 420.97 C587.99 420.27 592.95 419.24 595.91 418.46 C598.86 417.68 598.78 417.90 601.76 416.28 C604.75 414.66 609.82 411.82 613.81 408.75 C617.80 405.68 621.73 401.36 625.69 397.87 C629.65 394.39 634.59 390.20 637.57 387.83 C640.56 385.46 640.61 385.46 643.60 383.65 C646.58 381.84 651.52 379.24 655.48 376.96 C659.44 374.67 663.42 372.02 667.38 369.93 C671.34 367.84 675.30 365.69 679.26 364.41 C683.22 363.12 687.15 362.51 691.14 362.23 C695.13 361.95 699.20 362.37 703.19 362.73 C707.18 363.10 711.11 363.49 715.07 364.41 C719.03 365.33 722.99 367.28 726.95 368.26 C730.91 369.23 734.87 369.29 738.83 370.26 C742.79 371.24 746.72 372.58 750.71 374.11 C754.70 375.65 758.77 377.88 762.76 379.47 C766.75 381.06 770.68 381.70 774.64 383.65 C778.60 385.60 782.56 388.59 786.52 391.18 C790.48 393.77 794.41 397.18 798.40 399.21 C802.39 401.25 806.46 402.62 810.45 403.40 C814.44 404.18 820.35 403.81 822.33 403.90" fill="none" stroke="#f7606c" stroke-width="1.3" stroke-linejoin="round"/>
<path d="M5.24 424.53 L11.20 415.53 L17.16 406.66 L23.12 409.84 L29.07 413.19 L35.03 419.55 L40.99 420.89 L46.95 421.22 L52.91 425.40 L58.86 426.74 L64.82 425.07 L70.78 419.88 L76.74 423.73 L82.70 425.57 L88.65 422.06 L94.61 414.86 L100.57 419.55 L106.53 423.73 L112.49 425.40 L118.44 422.39 L124.40 421.56 L130.36 412.35 L136.32 417.87 L142.28 401.98 L148.23 391.60 L154.19 402.31 L160.15 398.30 L166.11 395.45 L172.07 399.47 L178.02 402.81 L183.98 402.81 L189.94 410.85 L195.90 409.51 L201.86 393.61 L207.81 391.60 L213.77 400.30 L219.73 408.67 L225.69 435.44 L231.65 455.02 L237.60 434.27 L243.56 437.45 L249.52 439.13 L255.48 442.64 L261.44 439.13 L267.39 435.95 L273.35 437.95 L279.31 437.62 L285.27 437.45 L291.23 437.62 L297.18 441.64 L303.14 445.48 L309.10 437.95 L315.06 431.26 L321.02 431.26 L326.97 432.43 L332.93 433.10 L338.89 433.60 L344.85 435.95 L350.81 430.42 L356.76 417.04 L362.72 420.38 L368.68 418.38 L374.64 421.56 L380.60 417.54 L386.55 420.38 L392.51 417.87 L398.47 422.39 L404.43 414.53 L410.39 416.20 L416.34 416.54 L422.30 417.37 L428.26 414.53 L434.22 401.98 L440.18 401.64 L446.13 414.53 L452.09 427.58 L458.05 424.23 L464.01 425.07 L469.97 430.76 L475.92 419.88 L481.88 421.22 L487.84 421.56 L493.80 422.39 L499.76 421.64 L505.71 421.30 L511.67 419.96 L517.63 424.65 L523.59 428.50 L529.55 424.65 L535.50 425.82 L541.46 428.50 L547.42 426.66 L553.38 423.31 L559.34 422.64 L565.29 414.61 L571.25 415.44 L577.21 410.42 L583.17 410.93 L589.13 403.73 L595.08 401.22 L601.04 392.02 L607.00 379.47 L612.96 368.26 L618.92 359.39 L624.87 354.87 L630.83 357.38 L636.79 356.04 L642.75 357.71 L648.71 372.27 L654.66 368.93 L660.62 360.73 L666.58 360.22 L672.54 362.40 L678.50 361.56 L684.45 368.59 L690.41 366.41 L696.37 367.42 L702.33 366.92 L708.29 368.93 L714.24 364.07 L720.20 386.66 L726.16 384.49 L732.12 379.13 L738.08 384.49 L744.03 385.66 L749.99 388.67 L755.95 396.70 L761.91 400.38 L767.87 394.19 L773.82 400.38 L779.78 420.13 L785.74 422.64 L791.70 419.13 L797.66 419.96 L803.61 419.63 L809.57 412.10 L815.53 387.00 L821.49 382.65" fill="none" stroke="#8660c8" stroke-width="1.2" stroke-linejoin="round"/>
</g>
<g>
<circle cx="821.7" cy="329.4" r="9.4" fill="#fff" stroke="#f23645" stroke-width="1.7"/>
<clipPath id="fl"><circle cx="821.7" cy="329.4" r="7.6"/></clipPath>
<g clip-path="url(#fl)"><rect x="812" y="320" width="20" height="20" fill="#fff"/>
<rect x="812" y="322.3" width="20" height="2.6" fill="#ef5350"/>
<rect x="812" y="328.0" width="20" height="2.6" fill="#ef5350"/>
<rect x="812" y="333.9" width="20" height="2.6" fill="#ef5350"/>
<rect x="812" y="320" width="11.4" height="10.3" fill="#4a90e2"/>
<g stroke="#b9d6f7" stroke-width="0.6"><line x1="816.9" y1="321" x2="816.9" y2="330.3" /><line x1="819.9" y1="321" x2="819.9" y2="330.3" /><line x1="813" y1="324.6" x2="823.4" y2="324.6" /><line x1="813" y1="327.4" x2="823.4" y2="327.4" /></g>
</g>
<circle cx="822" cy="306" r="9.0" fill="#fff" stroke="#9c27b0" stroke-width="1.6"/>
<path d="M824.3 300.9L817.6 307.0H821.6L819.6 311.5L826.4 305.2H822.4Z" fill="#9c27b0"/>
<circle cx="828.5" cy="299.7" r="3.7" fill="#fff"/><circle cx="828.5" cy="299.7" r="2.5" fill="#f23645"/>
</g>
<line x1="10" y1="342.7" x2="1014" y2="342.7" stroke="#e6e8ef" stroke-width="1.4"/>
<rect x="9.5" y="25.8" width="1005" height="466.7" fill="none" stroke="#e9ebf1" stroke-width="1.7"/>
<g clip-path="url(#cs)">
<text x="961.5" y="42.7" font-size="11.5" fill="#232730" textLength="20.5" lengthAdjust="spacingAndGlyphs">USD</text>
<text x="961.0" y="84.5" font-size="11.5" fill="#232730" textLength="43.2" lengthAdjust="spacingAndGlyphs">32000.00</text>
<text x="961.0" y="127.2" font-size="11.5" fill="#232730" textLength="43.2" lengthAdjust="spacingAndGlyphs">28000.00</text>
<text x="961.0" y="170.0" font-size="11.5" fill="#232730" textLength="43.2" lengthAdjust="spacingAndGlyphs">24000.00</text>
<text x="961.0" y="212.8" font-size="11.5" fill="#232730" textLength="43.2" lengthAdjust="spacingAndGlyphs">20000.00</text>
<text x="961.0" y="255.5" font-size="11.5" fill="#232730" textLength="43.2" lengthAdjust="spacingAndGlyphs">16000.00</text>
<text x="961.0" y="298.3" font-size="11.5" fill="#232730" textLength="43.2" lengthAdjust="spacingAndGlyphs">12000.00</text>
<text x="961.0" y="341.0" font-size="11.5" fill="#232730" textLength="38.4" lengthAdjust="spacingAndGlyphs">8000.00</text>
</g>
<g clip-path="url(#cs2)">
<text x="961.0" y="373.5" font-size="11.5" fill="#232730" textLength="26.0" lengthAdjust="spacingAndGlyphs">80.00</text>
<text x="961.0" y="404.6" font-size="11.5" fill="#232730" textLength="26.0" lengthAdjust="spacingAndGlyphs">60.00</text>
<text x="961.0" y="435.7" font-size="11.5" fill="#232730" textLength="26.0" lengthAdjust="spacingAndGlyphs">40.00</text>
<text x="961.0" y="466.8" font-size="11.5" fill="#232730" textLength="26.0" lengthAdjust="spacingAndGlyphs">20.00</text>
</g>
<line x1="881.3" y1="112.9" x2="953" y2="112.9" stroke="#1b5e20" stroke-width="2"/>
<rect x="952" y="105.3" width="58.6" height="15.8" rx="2" fill="#1b5e20"/>
<text x="961.0" y="117.9" font-size="11.5" fill="#fff" textLength="43.0" lengthAdjust="spacingAndGlyphs">29000.00</text>
<text x="884.3" y="108.8" font-size="12.5" fill="#f23645" textLength="63.5" lengthAdjust="spacingAndGlyphs" font-weight="700">Resistance</text>
<line x1="881.4" y1="198.3" x2="953" y2="198.3" stroke="#f23645" stroke-width="2"/>
<rect x="952" y="191.2" width="58.6" height="15.3" rx="2" fill="#f23645"/>
<text x="961.0" y="203.1" font-size="11.5" fill="#fff" textLength="43.0" lengthAdjust="spacingAndGlyphs">21000.00</text>
<text x="882.9" y="192.4" font-size="12.5" fill="#1b5e20" textLength="47.9" lengthAdjust="spacingAndGlyphs" font-weight="700">Support</text>
<rect x="952" y="148.1" width="58.6" height="29.2" rx="2" fill="#26a69a"/>
<text x="961.0" y="160.7" font-size="11.5" fill="#fff" textLength="43.3" lengthAdjust="spacingAndGlyphs">24961.82</text>
<text x="961.0" y="173.6" font-size="11.5" fill="#d5efec" textLength="41.4" lengthAdjust="spacingAndGlyphs">06:07:36</text>
<text x="90.0" y="483.2" font-size="11.5" fill="#232730" textLength="10.3" lengthAdjust="spacingAndGlyphs">17</text>
<text x="175.2" y="483.2" font-size="11.5" fill="#232730" textLength="18.8" lengthAdjust="spacingAndGlyphs">Nov</text>
<text x="256.1" y="483.2" font-size="11.5" fill="#232730" textLength="10.5" lengthAdjust="spacingAndGlyphs">14</text>
<text x="352.6" y="483.2" font-size="11.5" fill="#232730" textLength="19.0" lengthAdjust="spacingAndGlyphs">Dec</text>
<text x="465.4" y="483.2" font-size="11.5" fill="#232730" textLength="10.3" lengthAdjust="spacingAndGlyphs">19</text>
<text x="535.6" y="483.2" font-size="11.5" fill="#232730" textLength="25.8" lengthAdjust="spacingAndGlyphs" font-weight="700">2023</text>
<text x="632.2" y="483.2" font-size="11.5" fill="#232730" textLength="9.8" lengthAdjust="spacingAndGlyphs">16</text>
<text x="723.5" y="483.2" font-size="11.5" fill="#232730" textLength="18.1" lengthAdjust="spacingAndGlyphs">Feb</text>
<text x="805.0" y="483.2" font-size="11.5" fill="#232730" textLength="10.5" lengthAdjust="spacingAndGlyphs">14</text>
<text x="888.6" y="483.2" font-size="11.5" fill="#232730" textLength="19.9" lengthAdjust="spacingAndGlyphs">Mar</text>
<text x="17.6" y="43.8" font-size="11.5" fill="#232730" textLength="172.0" lengthAdjust="spacingAndGlyphs">Bitcoin / U.S. Dollar, 1D, BINANCE</text>
<text x="199.0" y="43.8" font-size="11.5" fill="#232730" textLength="7.2" lengthAdjust="spacingAndGlyphs">O</text>
<text x="206.6" y="43.8" font-size="11.5" fill="#26a69a" textLength="44.2" lengthAdjust="spacingAndGlyphs">24299.57</text>
<text x="258.7" y="43.8" font-size="11.5" fill="#232730" textLength="6.6" lengthAdjust="spacingAndGlyphs">H</text>
<text x="265.7" y="43.8" font-size="11.5" fill="#26a69a" textLength="43.2" lengthAdjust="spacingAndGlyphs">25256.56</text>
<text x="317.8" y="43.8" font-size="11.5" fill="#232730" textLength="5.0" lengthAdjust="spacingAndGlyphs">L</text>
<text x="322.8" y="43.8" font-size="11.5" fill="#26a69a" textLength="43.2" lengthAdjust="spacingAndGlyphs">24260.83</text>
<text x="373.6" y="43.8" font-size="11.5" fill="#232730" textLength="6.8" lengthAdjust="spacingAndGlyphs">C</text>
<text x="380.9" y="43.8" font-size="11.5" fill="#26a69a" textLength="43.1" lengthAdjust="spacingAndGlyphs">24961.82</text>
<text x="431.7" y="43.8" font-size="11.5" fill="#26a69a" textLength="37.2" lengthAdjust="spacingAndGlyphs">+655.36</text>
<text x="474.5" y="43.8" font-size="11.5" fill="#26a69a" textLength="39.9" lengthAdjust="spacingAndGlyphs">(+2.70%)</text>
<text x="17.3" y="59.8" font-size="11.5" fill="#232730" textLength="15.0" lengthAdjust="spacingAndGlyphs">Vol</text>
<rect x="36.5" y="54.8" width="2.4" height="2.4" rx="0.8" fill="#2b2f3a"/>
<text x="44.0" y="59.8" font-size="11.5" fill="#232730" textLength="18.7" lengthAdjust="spacingAndGlyphs">BTC</text>
<text x="71.0" y="59.8" font-size="11.5" fill="#26a69a" textLength="33.0" lengthAdjust="spacingAndGlyphs">3.909K</text>
<text x="17.3" y="75.6" font-size="11.5" fill="#232730" textLength="15.0" lengthAdjust="spacingAndGlyphs">Vol</text>
<rect x="36.5" y="70.6" width="2.4" height="2.4" rx="0.8" fill="#2b2f3a"/>
<text x="44.0" y="75.6" font-size="11.5" fill="#232730" textLength="18.7" lengthAdjust="spacingAndGlyphs">BTC</text>
<text x="71.0" y="75.6" font-size="11.5" fill="#26a69a" textLength="33.0" lengthAdjust="spacingAndGlyphs">3.909K</text>
<text x="17.6" y="91.6" font-size="11.5" fill="#232730" textLength="86.4" lengthAdjust="spacingAndGlyphs">MA (21, close, 0)</text>
<text x="111.6" y="91.6" font-size="11.5" fill="#2e7d32" textLength="43.7" lengthAdjust="spacingAndGlyphs">22959.17</text>
<text x="17.6" y="107.8" font-size="11.5" fill="#232730" textLength="80.4" lengthAdjust="spacingAndGlyphs">MA (9, close, 0)</text>
<text x="105.8" y="107.8" font-size="11.5" fill="#f23645" textLength="43.6" lengthAdjust="spacingAndGlyphs">22591.49</text>
<text x="17.6" y="361.0" font-size="11.5" fill="#232730" textLength="133.4" lengthAdjust="spacingAndGlyphs">RSI (14, close, SMA, 14, 2)</text>
<text x="159.6" y="361.0" font-size="11.5" fill="#7e57c2" textLength="26.2" lengthAdjust="spacingAndGlyphs">71.40</text>
<text x="193.4" y="361.0" font-size="11.5" fill="#f23645" textLength="26.6" lengthAdjust="spacingAndGlyphs">57.93</text>
<ellipse cx="231.6" cy="356.9" rx="2.4" ry="3.6" fill="none" stroke="#131722" stroke-width="1.4"/><line x1="229.4" y1="361.6" x2="233.8" y2="352.2" stroke="#131722" stroke-width="1.1"/>
<ellipse cx="246.9" cy="356.9" rx="2.4" ry="3.6" fill="none" stroke="#131722" stroke-width="1.4"/><line x1="244.7" y1="361.6" x2="249.1" y2="352.2" stroke="#131722" stroke-width="1.1"/>
<text x="9.0" y="17.8" font-size="11.5" fill="#40434d" textLength="318.7" lengthAdjust="spacingAndGlyphs">shyna published on TradingView.com, Feb 16, 2023 17:52 UTC</text>
<g fill="#1e222d"><path d="M9.3 504.2H17.6V513.4H13.4V508.3H9.3Z"/><circle cx="19.7" cy="506.2" r="2.05"/><path d="M23.2 504.2H28.3L23.9 513.4H18.8Z"/></g>
<text x="32.0" y="513.5" font-size="13" fill="#1e222d" textLength="67.0" lengthAdjust="spacingAndGlyphs">TradingView</text>
</svg>
</body></html>
